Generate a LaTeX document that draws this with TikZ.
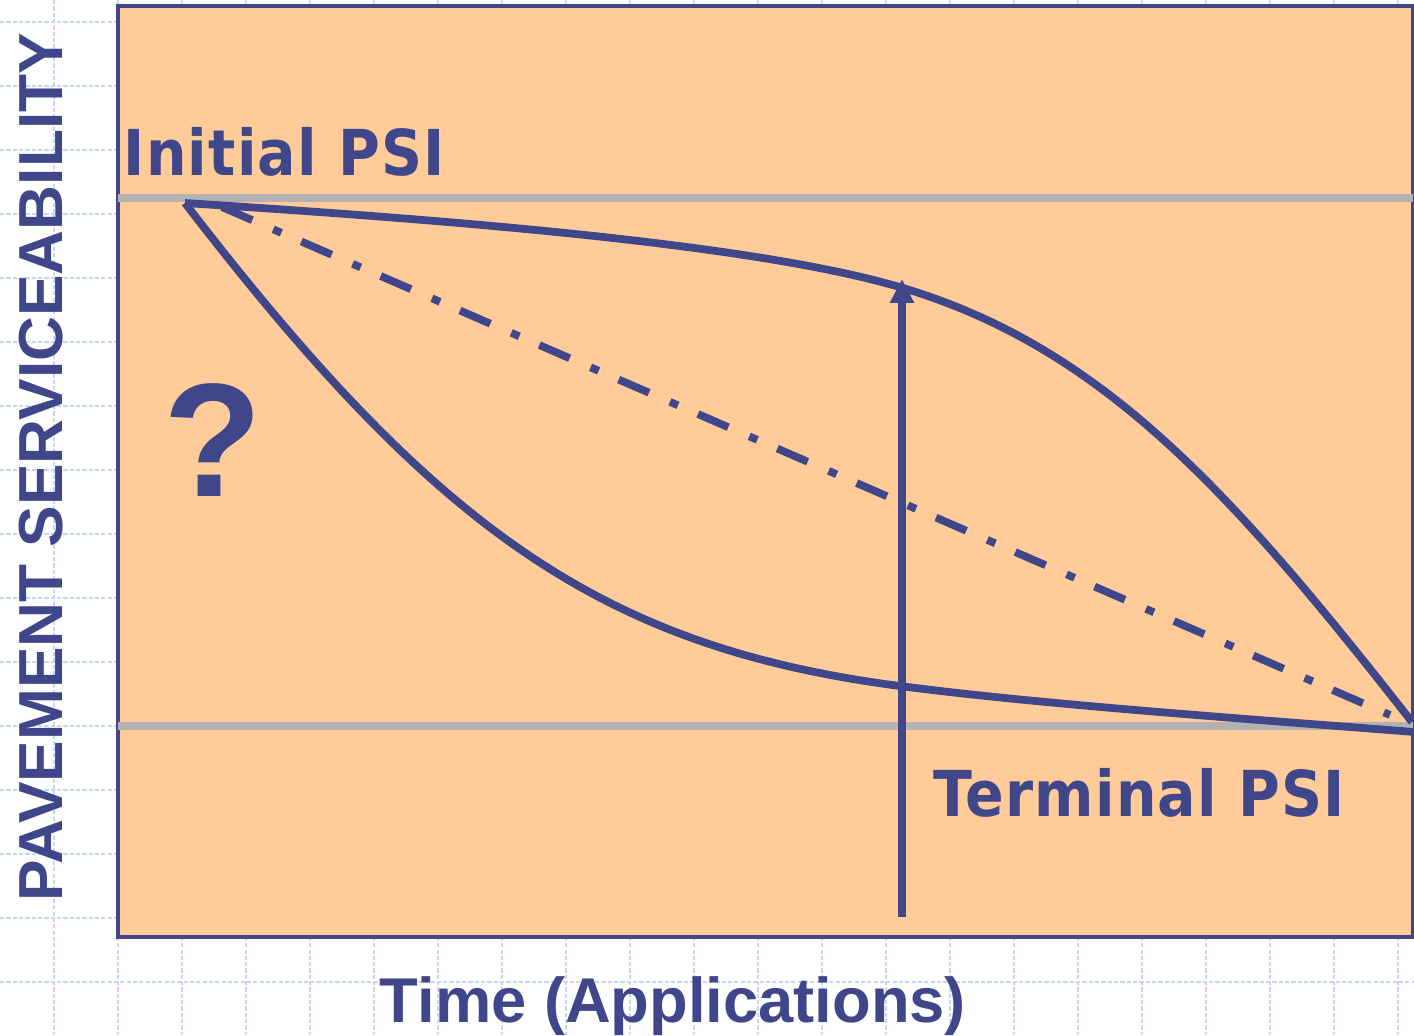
\documentclass[tikz,border=0pt]{standalone}
\usepackage{fontspec}
\setmainfont{Liberation Sans}
\newfontfamily\psifont{DejaVu Sans Condensed}[LetterSpace=2]
\usetikzlibrary{arrows.meta}
\definecolor{psiblue}{RGB}{64,70,138}
\definecolor{peach}{RGB}{255,204,153}
\definecolor{psigray}{RGB}{178,178,178}
\definecolor{gridblue}{RGB}{200,212,248}

\begin{document}
\begin{tikzpicture}[x=0.01cm, y=-0.01cm,
  gridline/.style={gridblue, line width=0.5pt, dash pattern=on 1.2pt off 0.6pt},
  psiline/.style={psigray, line width=2.2pt},
  curve/.style={psiblue, line width=2.2pt},
  chainline/.style={curve, dash pattern=on 9.4pt off 6.5pt on 2.5pt off 6.2pt},
  psilabel/.style={text=psiblue, font=\psifont\bfseries\fontsize{18}{20}\selectfont, inner sep=0pt, anchor=base west},
  axislabel/.style={text=psiblue, font=\bfseries\fontsize{18}{20}\selectfont, inner sep=0pt, anchor=base},
  arr/.style={curve, -{Triangle[length=6.8pt, width=6.5pt]}},
]
\useasboundingbox (0,0) rectangle (1414,1035);
% background grid
\foreach \gx in {54,118,...,1414} \draw[gridline] (\gx,0) -- (\gx,1035);
\foreach \gy in {22,86,...,1035} \draw[gridline] (0,\gy) -- (1414,\gy);
% plot area
\draw[psiblue, line width=1pt, fill=peach] (118,6) rectangle (1413,937);
\draw[psiline] (118,198) -- (1413,198);
\draw[psiline] (118,726) -- (1413,726);
% curves
\coordinate (start) at (185,203);
\coordinate (midhi) at (903,288);
\coordinate (endhi) at (1412,722);
\coordinate (midlo) at (900,686);
\coordinate (endlo) at (1414,732);
\coordinate (chainA) at (222,207);
\coordinate (chainB) at (1390,715);
\draw[curve] (start) .. controls (435,219) and (753,243) .. (midhi)
  .. controls (1103,348) and (1232,492) .. (endhi);
\draw[curve] (start) .. controls (435,528) and (600,647) .. (midlo)
  .. controls (1050,705.5) and (1264,720) .. (endlo);
\draw[chainline] (chainA) -- (chainB);
% arrow
\coordinate (foot) at (902,917);
\coordinate (tip) at (902,279);
\draw[arr] (foot) -- (tip);
% labels
\node[psilabel] (initlab) at (123,175) {Initial PSI};
\node[psilabel] (termlab) at (933,816) {Terminal PSI};
\node[text=psiblue, font=\bfseries\fontsize{46}{50}\selectfont, inner sep=0pt, anchor=base] (qmark) at (213,496) {?};
\node[axislabel] (xlab) at (673,1022) {Time (Applications)};
\node[axislabel, font=\bfseries\fontsize{17.7}{20}\selectfont, rotate=90] (ylab) at (62,467) {PAVEMENT SERVICEABILITY};
\end{tikzpicture}
\end{document}
